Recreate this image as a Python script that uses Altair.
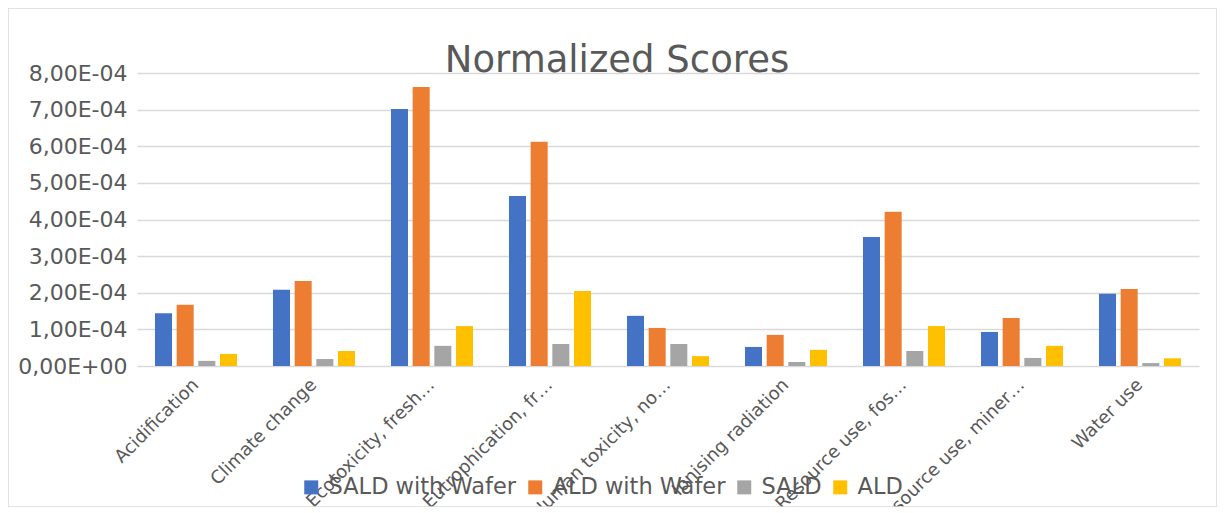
import altair as alt
import pandas as pd

categories = [
    "Acidification",
    "Climate change",
    "Ecotoxicity, fresh…",
    "Eutrophication, fr…",
    "Human toxicity, no…",
    "Ionising radiation",
    "Resource use, fos…",
    "Resource use, miner…",
    "Water use",
]
series = ["SALD with Wafer", "ALD with Wafer", "SALD", "ALD"]
colors = ["#4472C4", "#ED7D31", "#A5A5A5", "#FFC000"]

sald_wafer = [1.44e-4, 2.08e-4, 7.02e-4, 4.64e-4, 1.37e-4, 0.52e-4, 3.52e-4, 0.93e-4, 1.97e-4]
ald_wafer = [1.67e-4, 2.32e-4, 7.62e-4, 6.12e-4, 1.04e-4, 0.85e-4, 4.21e-4, 1.31e-4, 2.10e-4]
sald = [0.14e-4, 0.19e-4, 0.55e-4, 0.60e-4, 0.60e-4, 0.11e-4, 0.41e-4, 0.22e-4, 0.08e-4]
ald = [0.33e-4, 0.41e-4, 1.09e-4, 2.05e-4, 0.27e-4, 0.44e-4, 1.09e-4, 0.55e-4, 0.21e-4]

y_ticks = [round(i * 1e-4, 6) for i in range(9)]
title_text = "Normalized Scores"

rows = []
for s, vals in zip(series, [sald_wafer, ald_wafer, sald, ald]):
    for c, v in zip(categories, vals):
        rows.append({"Category": c, "Series": s, "Value": v})
df = pd.DataFrame(rows)

FONT = "DejaVu Sans"
TXT = "#595959"
GRID = "#d9d9d9"

bars = alt.Chart(df).mark_bar().encode(
    x=alt.X(
        "Category:N",
        sort=categories,
        scale=alt.Scale(paddingInner=0.305, paddingOuter=0.1525),
        axis=alt.Axis(
            title=None, labelAngle=-45, labelAlign="right", labelBaseline="middle",
            labelFontSize=18, labelColor=TXT, labelPadding=16, tickSize=0,
            ticks=False, domain=False, labelLimit=400, labelFont=FONT,
        ),
    ),
    xOffset=alt.XOffset(
        "Series:N", sort=series,
        scale=alt.Scale(paddingInner=0.215, paddingOuter=0),
    ),
    y=alt.Y(
        "Value:Q",
        scale=alt.Scale(domain=[0, 0.0008], nice=False, zero=True),
        axis=alt.Axis(
            title=None, values=y_ticks,
            labelExpr="datum.value == 0 ? '0,00E+00' : replace(format(datum.value * 10000, '.2f'), '.', ',') + 'E-04'",
            grid=True, gridColor=GRID, gridWidth=1.5, domain=False, ticks=False,
            tickSize=0, labelFontSize=22, labelColor=TXT, labelPadding=10,
            labelFont=FONT,
        ),
    ),
    color=alt.Color(
        "Series:N", sort=series,
        scale=alt.Scale(domain=series, range=colors),
        legend=alt.Legend(
            title=None, orient="none", legendX=163, legendY=403,
            direction="horizontal", symbolType="square", symbolSize=196,
            symbolStrokeWidth=0, labelFontSize=22.5, labelColor=TXT,
            labelFont=FONT, columnPadding=7, labelOffset=6, labelLimit=500,
        ),
    ),
)

frame = alt.Chart(pd.DataFrame({"f": [0]})).mark_rect(
    fill="transparent", stroke=GRID, strokeWidth=1.5
).encode(
    x=alt.value(-129), x2=alt.value(1080), y=alt.value(-65), y2=alt.value(434)
)

title = alt.Chart(pd.DataFrame({"t": [title_text]})).mark_text(
    font=FONT, fontSize=37, color=TXT, align="center", baseline="alphabetic"
).encode(
    text="t:N", x=alt.value(480), y=alt.value(-1)
)

chart = alt.layer(frame, bars, title).properties(
    width=1062,
    height=293,
    padding={"left": 129, "top": 65, "right": 18, "bottom": 141},
    autosize=alt.AutoSizeParams(type="none"),
).configure_view(strokeWidth=0)

chart.save("out.html", embed_options={"renderer": "svg", "actions": False})
